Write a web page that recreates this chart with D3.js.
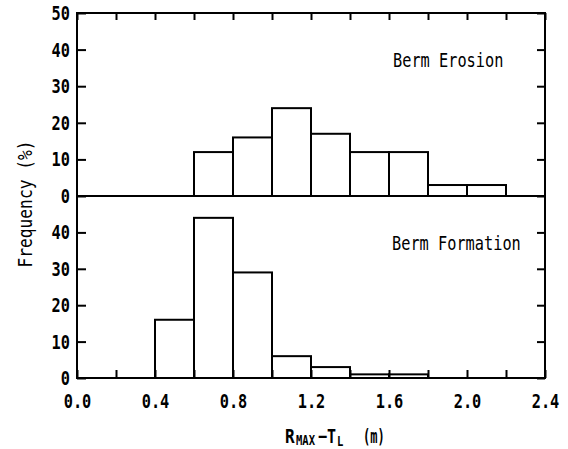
<!DOCTYPE html>
<html>
<head>
<meta charset="utf-8">
<script src="https://cdn.jsdelivr.net/npm/d3@7"></script>
<style>
  body { margin: 0; background: #fff; }
  text { font-family: "DejaVu Sans Mono", monospace; fill: #000; }
</style>
</head>
<body>
<div id="chart"></div>
<script>
// bin left edges (m), bins are 0.2 m wide
const binLeft = [0.4, 0.6, 0.8, 1.0, 1.2, 1.4, 1.6, 1.8, 2.0];
const binWidth = 0.2;
// frequency (%) per bin
const erosion = [0, 12, 16, 24, 17, 12, 12, 3, 3];
const formation = [16, 44, 29, 6, 3, 1, 1, 0, 0];
const xTicks = [0, 0.2, 0.4, 0.6, 0.8, 1.0, 1.2, 1.4, 1.6, 1.8, 2.0, 2.2, 2.4];
const xLabels = [0, 0.4, 0.8, 1.2, 1.6, 2.0, 2.4];
const yTicksTop = [0, 10, 20, 30, 40, 50];
const yTicksBot = [0, 10, 20, 30, 40];

const width = 568, height = 449;
const pLeft = 77, pRight = 545, pTop = 13, pMid = 196, pBottom = 378;
const charW = 9.2;

const x = d3.scaleLinear().domain([0, 2.4]).range([pLeft, pRight]);
const yTop = d3.scaleLinear().domain([0, 50]).range([pMid, pTop]);
const yBot = d3.scaleLinear().domain([0, 50]).range([pBottom, pMid]);

const svg = d3.select('#chart').append('svg')
  .attr('width', width)
  .attr('height', height);

function squeeze(sel) {
  sel.each(function () {
    const t = this.textContent;
    if (t.length) {
      d3.select(this).attr('textLength', t.length * charW).attr('lengthAdjust', 'spacingAndGlyphs');
    }
  });
}

function drawBars(vals, y) {
  svg.append('g').selectAll('rect')
    .data(binLeft.map((b, i) => ({ b: b, v: vals[i] })).filter(d => d.v > 0))
    .enter().append('rect')
    .attr('x', d => x(d.b))
    .attr('y', d => y(d.v))
    .attr('width', d => x(d.b + binWidth) - x(d.b))
    .attr('height', d => y(0) - y(d.v))
    .attr('fill', 'none')
    .attr('stroke', '#000')
    .attr('stroke-width', 2);
}
drawBars(erosion, yTop);
drawBars(formation, yBot);

function styleAxis(g) {
  g.select('.domain').remove();
  g.selectAll('.tick line').attr('stroke', '#000').attr('stroke-width', 2);
  g.selectAll('.tick text')
    .style('font-family', '"DejaVu Sans Mono", monospace')
    .style('font-size', '20px')
    .style('font-weight', 'bold')
    .call(squeeze);
}

// left axes
svg.append('g').attr('transform', 'translate(' + pLeft + ',0)')
  .call(d3.axisLeft(yTop).tickValues(yTicksTop).tickSize(-9).tickPadding(7).tickFormat(d3.format('d')))
  .call(styleAxis);
svg.append('g').attr('transform', 'translate(' + pLeft + ',0)')
  .call(d3.axisLeft(yBot).tickValues(yTicksBot).tickSize(-9).tickPadding(7).tickFormat(d3.format('d')))
  .call(styleAxis);
// right axes
svg.append('g').attr('transform', 'translate(' + pRight + ',0)')
  .call(d3.axisRight(yTop).tickValues(yTicksTop).tickSize(-8).tickFormat(''))
  .call(styleAxis);
svg.append('g').attr('transform', 'translate(' + pRight + ',0)')
  .call(d3.axisRight(yBot).tickValues(yTicksBot).tickSize(-8).tickFormat(''))
  .call(styleAxis);
// top axis
svg.append('g').attr('transform', 'translate(0,' + pTop + ')')
  .call(d3.axisTop(x).tickValues(xTicks).tickSize(-7).tickFormat(''))
  .call(styleAxis);
// bottom axis
svg.append('g').attr('transform', 'translate(0,' + pBottom + ')')
  .call(d3.axisBottom(x).tickValues(xTicks).tickSize(-8).tickPadding(16)
    .tickFormat(d => xLabels.some(v => Math.abs(v - d) < 1e-6) ? d3.format('.1f')(d) : ''))
  .call(styleAxis);

// frame and middle line
svg.append('rect')
  .attr('x', pLeft).attr('y', pTop)
  .attr('width', pRight - pLeft).attr('height', pBottom - pTop)
  .attr('fill', 'none').attr('stroke', '#000').attr('stroke-width', 2);
svg.append('line')
  .attr('x1', pLeft).attr('x2', pRight)
  .attr('y1', pMid).attr('y2', pMid)
  .attr('stroke', '#000').attr('stroke-width', 2);

// panel labels
svg.append('text').attr('x', 393).attr('y', 67)
  .style('font-size', '20px').text('Berm Erosion').call(squeeze);
svg.append('text').attr('x', 392).attr('y', 250)
  .style('font-size', '20px').text('Berm Formation').call(squeeze);

// y title
svg.append('text')
  .attr('transform', 'translate(32,204) rotate(-90)')
  .attr('text-anchor', 'middle')
  .style('font-size', '20px')
  .attr('textLength', 127).attr('lengthAdjust', 'spacingAndGlyphs')
  .text('Frequency  (%)');

// x title, built from separate pieces for the subscripts (squeezed with scaleX)
const xTitle = [
  { t: 'R', x: 285, y: 443, s: 20, k: 0.8 },
  { t: 'MAX', x: 296, y: 445, s: 14, k: 0.75 },
  { t: '\u2212T', x: 318, y: 443, s: 20, k: 0.75 },
  { t: 'L', x: 337, y: 446, s: 14, k: 0.75 },
  { t: '(m)', x: 363, y: 443, s: 20, k: 0.6 }
];
svg.append('g').selectAll('text')
  .data(xTitle)
  .enter().append('text')
  .attr('transform', d => 'translate(' + d.x + ',' + d.y + ') scale(' + d.k + ',1)')
  .style('font-size', d => d.s + 'px')
  .style('font-weight', 'bold')
  .text(d => d.t);
</script>
</body>
</html>
